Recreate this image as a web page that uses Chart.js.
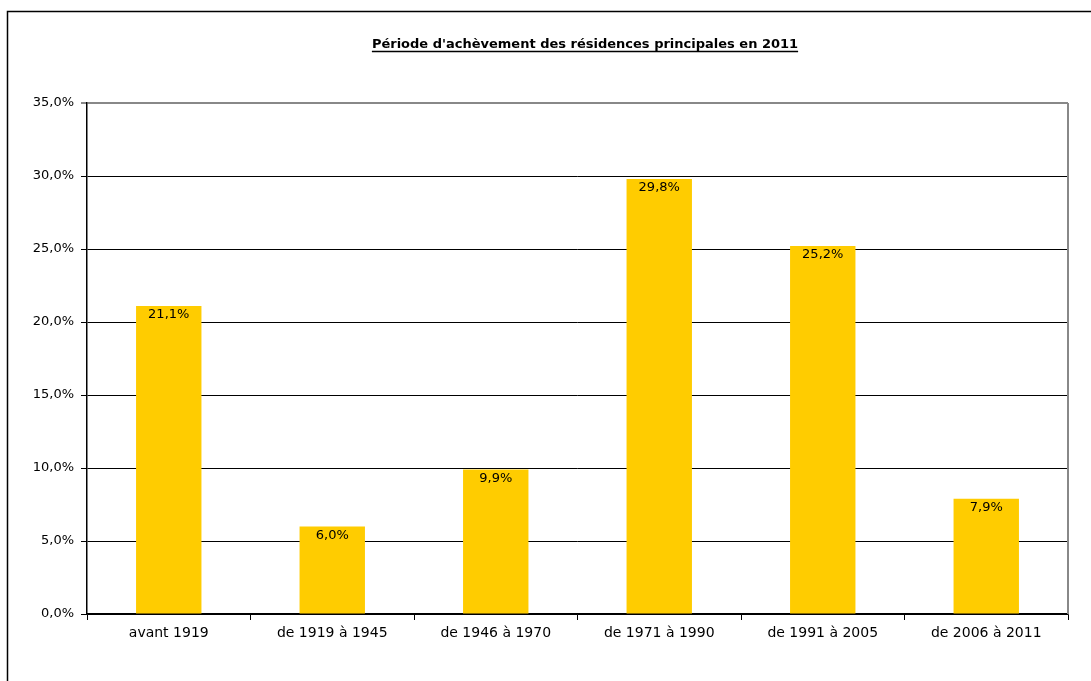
<!DOCTYPE html>
<html>
<head>
<meta charset="utf-8">
<script src="https://cdn.jsdelivr.net/npm/chart.js@4.4.1/dist/chart.umd.min.js"></script>
<style>
html,body{margin:0;padding:0;background:#fff;overflow:hidden;}
#wrap{position:absolute;left:0;top:0;width:1091px;height:681px;}
</style>
</head>
<body>
<div id="wrap"><canvas id="c" width="1091" height="681"></canvas></div>
<script>
const categories = ["avant 1919", "de 1919 à 1945", "de 1946 à 1970", "de 1971 à 1990", "de 1991 à 2005", "de 2006 à 2011"];
const values = [21.1, 6.0, 9.9, 29.8, 25.2, 7.9];
const titleText = "Période d'achèvement des résidences principales en 2011";
const yMin = 0, yMax = 35, yStep = 5;

const FONT = "'DejaVu Sans', sans-serif";
const fmt = v => v.toFixed(1).replace('.', ',') + '%';

const decor = {
  id: 'decor',
  beforeDraw(chart) {
    const ctx = chart.ctx;
    ctx.save();
    ctx.fillStyle = '#fff';
    ctx.fillRect(0, 0, chart.width, chart.height);
    ctx.strokeStyle = '#000';
    ctx.lineWidth = 1.5;
    ctx.strokeRect(7.5, 11.5, 1200, 800);
    // title
    ctx.font = "bold 13px " + FONT;
    ctx.fillStyle = '#000';
    ctx.textAlign = 'center';
    ctx.textBaseline = 'alphabetic';
    const tx = 585, ty = 48;
    ctx.fillText(titleText, tx, ty);
    const w = ctx.measureText(titleText).width;
    ctx.lineWidth = 1.3;
    ctx.beginPath();
    ctx.moveTo(tx - w / 2, ty + 3.5);
    ctx.lineTo(tx + w / 2, ty + 3.5);
    ctx.stroke();
    ctx.restore();
  },
  afterDatasetsDraw(chart) {
    const ctx = chart.ctx;
    const a = chart.chartArea;
    ctx.save();
    ctx.strokeStyle = '#888';
    ctx.lineWidth = 2;
    ctx.beginPath();
    ctx.moveTo(a.right, a.top);
    ctx.lineTo(a.right, a.bottom);
    ctx.stroke();
    const meta = chart.getDatasetMeta(0);
    ctx.font = "13px " + FONT;
    ctx.fillStyle = '#000';
    ctx.textAlign = 'center';
    ctx.textBaseline = 'middle';
    meta.data.forEach((bar, i) => {
      ctx.fillText(fmt(values[i]), bar.x, bar.y + 9);
    });
    ctx.restore();
  }
};

new Chart(document.getElementById('c'), {
  type: 'bar',
  data: {
    labels: categories,
    datasets: [{
      data: values,
      backgroundColor: '#FFCC00',
      borderWidth: 0,
      barPercentage: 0.4,
      categoryPercentage: 1.0
    }]
  },
  options: {
    responsive: false,
    animation: false,
    devicePixelRatio: 1,
    layout: { padding: { top: 103, right: 23, left: 0, bottom: 0 } },
    plugins: { legend: { display: false }, title: { display: false }, tooltip: { enabled: false } },
    scales: {
      x: {
        offset: true,
        grid: { display: true, drawOnChartArea: false, drawTicks: true, tickLength: 6, color: '#000', offset: true },
        border: { display: true, color: '#000', width: 1.5 },
        ticks: { color: '#000', font: { family: FONT, size: 14 }, padding: 5, maxRotation: 0 },
        afterFit(s) { s.height = 67; }
      },
      y: {
        min: yMin, max: yMax,
        grid: {
          color: ctx => (ctx.tick && ctx.tick.value === yMax) ? '#888' : '#000',
          lineWidth: ctx => (ctx.tick && ctx.tick.value === yMax) ? 2 : 1,
          tickLength: 6
        },
        border: { display: true, color: '#000', width: 1.5 },
        ticks: {
          stepSize: yStep,
          color: '#000',
          font: { family: FONT, size: 13 },
          padding: 7,
          callback: v => fmt(v)
        },
        afterFit(s) { s.width = 87; }
      }
    }
  },
  plugins: [decor]
});
</script>
</body>
</html>
